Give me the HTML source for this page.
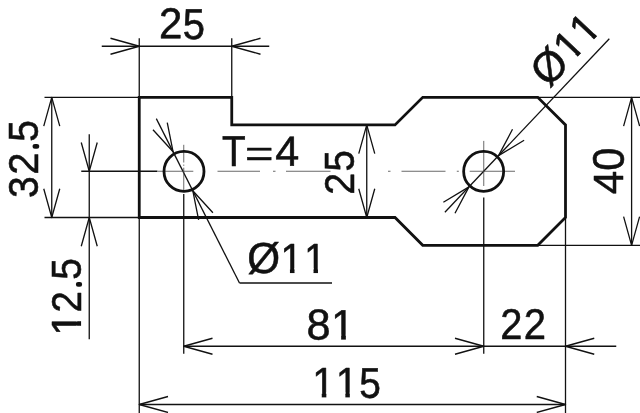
<!DOCTYPE html>
<html><head><meta charset="utf-8"><title>drawing</title>
<style>
html,body{margin:0;padding:0;background:#fff;}
body{width:640px;height:413px;overflow:hidden;}
svg{display:block;will-change:transform;font-family:"Liberation Sans",sans-serif;}
</style></head><body>
<svg width="640" height="413" viewBox="0 0 640 413">
<defs><clipPath id="c1" clipPathUnits="userSpaceOnUse"><polygon points="0,-165 120,-165 120,-23 70.5,-23 70.5,3 47.8,3 47.8,-23 0,-23"/></clipPath></defs>
<rect width="640" height="413" fill="#fff"/>
<line x1="101.75" y1="46.25" x2="269.25" y2="46.25" stroke="#111" stroke-width="1.3" />
<line x1="139.25" y1="38.25" x2="139.25" y2="97.30" stroke="#111" stroke-width="1.3" />
<line x1="231.75" y1="38.25" x2="231.75" y2="97.30" stroke="#111" stroke-width="1.3" />
<polyline points="110.50,38.25 139.25,46.25 110.50,54.25" fill="none" stroke="#111" stroke-width="1.3" stroke-linejoin="round"/>
<polyline points="260.50,54.25 231.75,46.25 260.50,38.25" fill="none" stroke="#111" stroke-width="1.3" stroke-linejoin="round"/>
<line x1="44.50" y1="97.30" x2="139.25" y2="97.30" stroke="#111" stroke-width="1.3" />
<line x1="44.50" y1="217.50" x2="139.25" y2="217.50" stroke="#111" stroke-width="1.3" />
<line x1="51.75" y1="97.30" x2="51.75" y2="217.50" stroke="#111" stroke-width="1.3" />
<polyline points="43.75,126.05 51.75,97.30 59.75,126.05" fill="none" stroke="#111" stroke-width="1.3" stroke-linejoin="round"/>
<polyline points="59.75,188.75 51.75,217.50 43.75,188.75" fill="none" stroke="#111" stroke-width="1.3" stroke-linejoin="round"/>
<line x1="89.25" y1="134.25" x2="89.25" y2="339.25" stroke="#111" stroke-width="1.3" />
<polyline points="97.25,142.50 89.25,171.25 81.25,142.50" fill="none" stroke="#111" stroke-width="1.3" stroke-linejoin="round"/>
<polyline points="81.25,246.25 89.25,217.50 97.25,246.25" fill="none" stroke="#111" stroke-width="1.3" stroke-linejoin="round"/>
<line x1="81.25" y1="171.25" x2="157.50" y2="171.25" stroke="#111" stroke-width="1.3" />
<line x1="366.75" y1="124.90" x2="366.75" y2="217.50" stroke="#111" stroke-width="1.3" />
<polyline points="358.75,153.65 366.75,124.90 374.75,153.65" fill="none" stroke="#111" stroke-width="1.3" stroke-linejoin="round"/>
<polyline points="374.75,188.75 366.75,217.50 358.75,188.75" fill="none" stroke="#111" stroke-width="1.3" stroke-linejoin="round"/>
<line x1="537.75" y1="97.30" x2="640.00" y2="97.30" stroke="#111" stroke-width="1.3" />
<line x1="537.75" y1="245.30" x2="640.00" y2="245.30" stroke="#111" stroke-width="1.3" />
<line x1="631.60" y1="97.30" x2="631.60" y2="245.30" stroke="#111" stroke-width="1.3" />
<polyline points="623.60,126.05 631.60,97.30 639.60,126.05" fill="none" stroke="#111" stroke-width="1.3" stroke-linejoin="round"/>
<polyline points="639.60,216.55 631.60,245.30 623.60,216.55" fill="none" stroke="#111" stroke-width="1.3" stroke-linejoin="round"/>
<line x1="183.75" y1="346.25" x2="616.25" y2="346.25" stroke="#111" stroke-width="1.3" />
<line x1="183.75" y1="194.00" x2="183.75" y2="353.75" stroke="#111" stroke-width="1.3" />
<line x1="483.75" y1="197.50" x2="483.75" y2="353.75" stroke="#111" stroke-width="1.3" />
<polyline points="212.50,354.25 183.75,346.25 212.50,338.25" fill="none" stroke="#111" stroke-width="1.3" stroke-linejoin="round"/>
<polyline points="455.00,338.25 483.75,346.25 455.00,354.25" fill="none" stroke="#111" stroke-width="1.3" stroke-linejoin="round"/>
<polyline points="594.25,354.25 565.50,346.25 594.25,338.25" fill="none" stroke="#111" stroke-width="1.3" stroke-linejoin="round"/>
<line x1="565.50" y1="217.50" x2="565.50" y2="413.00" stroke="#111" stroke-width="1.3" />
<line x1="139.25" y1="404.50" x2="565.50" y2="404.50" stroke="#111" stroke-width="1.3" />
<line x1="139.25" y1="217.50" x2="139.25" y2="413.00" stroke="#111" stroke-width="1.3" />
<polyline points="168.00,412.50 139.25,404.50 168.00,396.50" fill="none" stroke="#111" stroke-width="1.3" stroke-linejoin="round"/>
<polyline points="536.75,396.50 565.50,404.50 536.75,412.50" fill="none" stroke="#111" stroke-width="1.3" stroke-linejoin="round"/>
<line x1="156.30" y1="118.60" x2="239.50" y2="283.00" stroke="#111" stroke-width="1.3" />
<line x1="239.50" y1="283.00" x2="332.00" y2="283.00" stroke="#111" stroke-width="1.3" />
<polyline points="167.26,122.53 173.10,151.80 152.98,129.76" fill="none" stroke="#111" stroke-width="1.3" stroke-linejoin="round"/>
<polyline points="198.63,219.97 192.79,190.70 212.91,212.74" fill="none" stroke="#111" stroke-width="1.3" stroke-linejoin="round"/>
<line x1="444.88" y1="212.26" x2="609.30" y2="38.80" stroke="#111" stroke-width="1.3" />
<polyline points="524.13,140.28 498.54,155.65 512.51,129.28" fill="none" stroke="#111" stroke-width="1.3" stroke-linejoin="round"/>
<polyline points="443.37,202.22 468.96,186.85 454.99,213.22" fill="none" stroke="#111" stroke-width="1.3" stroke-linejoin="round"/>
<line x1="158.00" y1="171.25" x2="193.30" y2="171.25" stroke="#444" stroke-width="0.8" />
<line x1="217.50" y1="171.25" x2="260.00" y2="171.25" stroke="#444" stroke-width="0.8" />
<line x1="273.00" y1="171.25" x2="275.50" y2="171.25" stroke="#444" stroke-width="0.8" />
<line x1="286.00" y1="171.25" x2="330.50" y2="171.25" stroke="#444" stroke-width="0.8" />
<line x1="388.00" y1="171.25" x2="390.50" y2="171.25" stroke="#444" stroke-width="0.8" />
<line x1="401.50" y1="171.25" x2="445.50" y2="171.25" stroke="#444" stroke-width="0.8" />
<line x1="456.80" y1="171.25" x2="458.80" y2="171.25" stroke="#444" stroke-width="0.8" />
<line x1="469.70" y1="171.25" x2="515.00" y2="171.25" stroke="#444" stroke-width="0.8" />
<line x1="183.75" y1="144.80" x2="183.75" y2="162.50" stroke="#444" stroke-width="0.8" />
<line x1="183.75" y1="164.60" x2="183.75" y2="165.80" stroke="#444" stroke-width="0.8" />
<line x1="183.75" y1="167.70" x2="183.75" y2="190.50" stroke="#444" stroke-width="0.8" />
<line x1="483.75" y1="140.90" x2="483.75" y2="186.00" stroke="#444" stroke-width="0.8" />
<path d="M139.25,97.3 H231.75 V124.9 H395.0 L422.75,97.3 H537.75 L565.5,124.9 V217.5 L537.75,245.3 H422.75 L395.0,217.5 H139.25 Z" fill="none" stroke="#111" stroke-width="2.8" stroke-linejoin="miter"/>
<circle cx="184.0" cy="171.45" r="20.0" fill="none" stroke="#111" stroke-width="2.8"/>
<circle cx="483.65" cy="171.4" r="20.0" fill="none" stroke="#111" stroke-width="2.8"/>
<g font-size="200" fill="#111" stroke="#111" stroke-linejoin="round">
<g aria-label="25">
<text transform="matrix(0.21018,-0.00011,0.00011,0.21662,159.061,38.226)" stroke-width="2.58">2</text>
<text transform="matrix(0.19984,-0.00010,0.00011,0.21605,182.774,38.504)" stroke-width="2.65">5</text>
</g>
<g aria-label="T=4">
<text transform="matrix(0.19410,-0.00010,0.00011,0.21621,222.103,165.725)" stroke-width="2.68">T</text>
<text transform="matrix(0.24442,-0.00013,0.00010,0.18696,244.891,166.307)" stroke-width="2.57">=</text>
<text transform="matrix(0.21581,-0.00011,0.00011,0.21040,275.184,165.725)" stroke-width="2.58">4</text>
</g>
<g aria-label="Ø11">
<text transform="matrix(0.21132,-0.00011,0.00011,0.21681,247.273,273.052)" stroke-width="2.57">Ø</text>
<text transform="matrix(0.19905,-0.00010,0.00011,0.21040,280.445,272.977)" stroke-width="2.69" clip-path="url(#c1)">1</text>
<text transform="matrix(0.19392,-0.00010,0.00011,0.21040,304.294,272.977)" stroke-width="2.72" clip-path="url(#c1)">1</text>
</g>
<g aria-label="81">
<text transform="matrix(0.21684,-0.00011,0.00011,0.21681,306.490,339.552)" stroke-width="2.54">8</text>
<text transform="matrix(0.20624,-0.00011,0.00011,0.21112,331.307,339.327)" stroke-width="2.64" clip-path="url(#c1)">1</text>
</g>
<g aria-label="22">
<text transform="matrix(0.19920,-0.00010,0.00011,0.21518,500.171,338.726)" stroke-width="2.66">2</text>
<text transform="matrix(0.20030,-0.00010,0.00011,0.21518,523.860,338.726)" stroke-width="2.65">2</text>
</g>
<g aria-label="115">
<text transform="matrix(0.20111,-0.00011,0.00011,0.21221,312.156,397.227)" stroke-width="2.66" clip-path="url(#c1)">1</text>
<text transform="matrix(0.19598,-0.00010,0.00011,0.21221,336.005,397.227)" stroke-width="2.70" clip-path="url(#c1)">1</text>
<text transform="matrix(0.19457,-0.00010,0.00011,0.21390,359.217,397.808)" stroke-width="2.70">5</text>
</g>
<g aria-label="32.5">
<text transform="matrix(0.00000,-0.19563,0.21462,-0.00000,38.306,197.915)" stroke-width="2.68">3</text>
<text transform="matrix(0.00000,-0.20030,0.21332,-0.00000,38.125,174.740)" stroke-width="2.66">2</text>
<text transform="matrix(0.00000,-0.07614,0.10287,-0.00000,36.700,148.491)" stroke-width="42.94">.</text>
<text transform="matrix(0.00000,-0.19510,0.21605,-0.00000,38.303,141.787)" stroke-width="2.68">5</text>
</g>
<g aria-label="12.5">
<text transform="matrix(0.00000,-0.20624,0.21621,-0.00000,80.875,335.693)" stroke-width="2.60" clip-path="url(#c1)">1</text>
<text transform="matrix(0.00000,-0.19262,0.21303,-0.00000,80.875,312.462)" stroke-width="2.72">2</text>
<text transform="matrix(0.00000,-0.07614,0.08884,-0.00000,79.500,286.491)" stroke-width="46.20">.</text>
<text transform="matrix(0.00000,-0.19510,0.21318,-0.00000,81.059,279.787)" stroke-width="2.70">5</text>
</g>
<g aria-label="25">
<text transform="matrix(0.00000,-0.19701,0.21554,-0.00000,353.825,194.707)" stroke-width="2.67">2</text>
<text transform="matrix(0.00000,-0.19193,0.21677,-0.00000,353.802,171.462)" stroke-width="2.70">5</text>
</g>
<g aria-label="40">
<text transform="matrix(0.00000,-0.21184,0.21258,-0.00000,623.225,194.297)" stroke-width="2.59">4</text>
<text transform="matrix(0.00000,-0.20867,0.22069,-0.00000,623.694,170.755)" stroke-width="2.56">0</text>
</g>
<g aria-label="Ø11">
<text transform="matrix(0.14538,-0.15337,0.15709,0.14891,548.717,88.470)" stroke-width="2.57">Ø</text>
<text transform="matrix(0.13694,-0.14447,0.15270,0.14474,571.173,63.360)" stroke-width="2.69" clip-path="url(#c1)">1</text>
<text transform="matrix(0.13341,-0.14074,0.15270,0.14474,587.579,46.052)" stroke-width="2.72" clip-path="url(#c1)">1</text>
</g>
</g>
</svg>
</body></html>
